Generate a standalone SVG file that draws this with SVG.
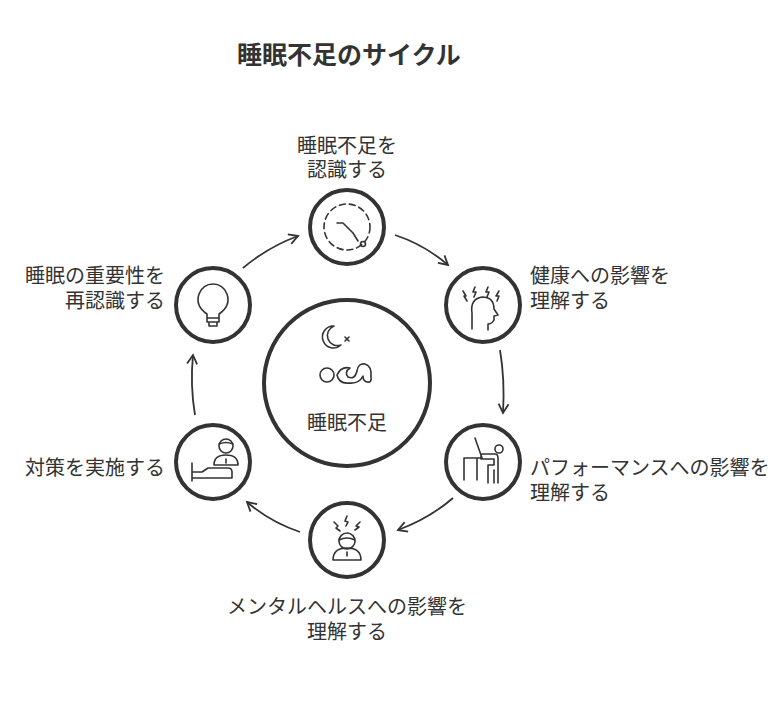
<svg xmlns="http://www.w3.org/2000/svg" width="780" height="708" viewBox="0 0 780 708">
<defs>
<style>
.t{font-family:"Noto Sans CJK JP","Noto Sans",sans-serif;font-size:20px;fill:#333}
.c{fill:#fff;stroke:#333;stroke-width:4}
.i{fill:none;stroke:#333;stroke-width:1.6;stroke-linecap:round;stroke-linejoin:round}
.a{fill:none;stroke:#333;stroke-width:1.8;marker-end:url(#m)}
</style>
<marker id="m" viewBox="0 0 12 12" refX="10" refY="6" markerWidth="12" markerHeight="12" markerUnits="userSpaceOnUse" orient="auto"><path d="M1,1 L10,6 L1,11" fill="none" stroke="#333" stroke-width="1.8"/></marker>
</defs>
<rect width="780" height="708" fill="#fff"/>
<text x="349" y="64" text-anchor="middle" style="font-family:'Noto Sans CJK JP',sans-serif;font-size:25px;font-weight:bold;fill:#333">睡眠不足のサイクル</text>
<g id="connectors">
<path class="a" d="M395,235 Q425,245 448,265"/>
<path class="a" d="M500,350 Q505,380 503,413"/>
<path class="a" d="M453,498 Q430,518 398,530"/>
<path class="a" d="M300,532 Q270,522 247,502"/>
<path class="a" d="M195,415 Q190,385 193,355"/>
<path class="a" d="M243,268 Q268,247 298,236"/>
</g>
<g id="center">
<circle class="c" cx="347" cy="383" r="83"/>
<path class="i" d="M334,326 a11,11 0 1 0 7,19 a9,9 0 1 1 -7,-19z M345,337 l4,4 M349,337 l-4,4"/>
<circle class="i" cx="327" cy="375" r="7"/>
<path class="i" d="M337,375 q4,-9 13,-7 q-6,4 -2,9 q7,3 9,-6 q1,-8 8,-7 q7,2 6,13 q1,6 -4,5 q-4,-1 -4,-6 q-4,8 -14,7 q-10,1 -12,-8z"/>
<text class="t" x="347" y="430" text-anchor="middle">睡眠不足</text>
</g>
<g id="n1">
<circle class="c" cx="347" cy="227" r="37"/>
<circle class="i" cx="347" cy="227" r="23" stroke-dasharray="6,4"/>
<path class="i" d="M337,223 h6 l10,10 l5,8"/><circle class="i" cx="363" cy="244" r="2.5"/>
<text class="t" x="347" y="153" text-anchor="middle">睡眠不足を</text>
<text class="t" x="347" y="177" text-anchor="middle">認識する</text>
</g>
<g id="n2">
<circle class="c" cx="483" cy="305" r="37"/>
<path class="i" d="M472,313 q-2,-14 10,-16 q12,0 12,12 l4,6 l-4,1 v4 q-2,4 -6,4 v6 M472,313 v16 M463,291 l3,5 h-2 l3,5 M475,287 l-2,5 h3 l-2,5 M488,287 l-2,5 h3 l-2,5 M499,291 l-3,5 h3 l-2,5"/>
<text class="t" x="530" y="283">健康への影響を</text>
<text class="t" x="530" y="308">理解する</text>
</g>
<g id="n3">
<circle class="c" cx="483" cy="462" r="37"/>
<path class="i" d="M464,480 v-22 h13 v22 M477,458 h5 l-7,-20 M488,483 v-18 h6 v-6 h-13 v-5 h14 q3,0 3,4 v25 M494,470 v13"/>
<circle class="i" cx="499" cy="449" r="4"/>
<text class="t" x="530" y="475">パフォーマンスへの影響を</text>
<text class="t" x="530" y="500">理解する</text>
</g>
<g id="n4">
<circle class="c" cx="347" cy="540" r="37"/>
<circle class="i" cx="347" cy="541" r="8"/>
<path class="i" d="M339,540 q8,-4 16,0 M333,560 q0,-12 14,-12 q14,0 14,12z M347,552 v4 M334,522 l4,4 l-2,2 l4,3 M347,516 l-2,5 l3,1 l-2,4 M360,522 l-4,4 l3,1 l-4,3"/>
<text class="t" x="347" y="614" text-anchor="middle">メンタルヘルスへの影響を</text>
<text class="t" x="347" y="639" text-anchor="middle">理解する</text>
</g>
<g id="n5">
<circle class="c" cx="213" cy="462" r="37"/>
<circle class="i" cx="226" cy="446" r="7"/>
<path class="i" d="M219,444 q7,-3 14,0 M214,465 q0,-10 12,-10 q12,0 12,10z M226,459 v4 M192,481 v-18 M192,472 h10 l6,-4 h20 q4,0 4,4 v6 h-40"/>
<text class="t" x="165" y="475" text-anchor="end">対策を実施する</text>
</g>
<g id="n6">
<circle class="c" cx="213" cy="305" r="37"/>
<path class="i" d="M207,314 q-12,-8 -8,-20 q4,-10 14,-10 q10,0 14,10 q4,12 -8,20 v4 h-12z M207,318 h12 v4 h-12z M209,322 h8 v4 h-8z"/>
<text class="t" x="165" y="283" text-anchor="end">睡眠の重要性を</text>
<text class="t" x="165" y="308" text-anchor="end">再認識する</text>
</g>
</svg>
